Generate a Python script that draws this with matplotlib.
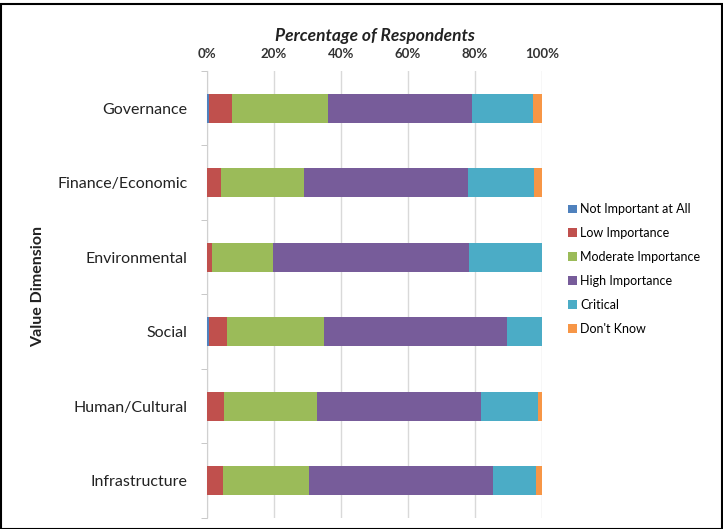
import numpy as np
import matplotlib
matplotlib.use("Agg")
import matplotlib.pyplot as plt
from matplotlib.patches import Rectangle

plt.rcParams["font.family"] = ["Lato", "DejaVu Sans"]

# Data (percent of respondents)
categories = ["Governance", "Finance/Economic", "Environmental",
              "Social", "Human/Cultural", "Infrastructure"]
series_names = ["Not Important at All", "Low Importance", "Moderate Importance",
                "High Importance", "Critical", "Don't Know"]
not_important = [0.7, 0.0, 0.0, 0.7, 0.0, 0.0]
low = [6.7, 4.1, 1.4, 5.2, 5.2, 4.9]
moderate = [28.8, 24.9, 18.4, 29.0, 27.7, 25.6]
high = [42.8, 49.0, 58.4, 54.6, 48.8, 55.0]
critical = [18.4, 19.6, 21.8, 10.5, 17.2, 12.7]
dont_know = [2.6, 2.4, 0.0, 0.0, 1.1, 1.8]

colors = ["#4F81BD", "#C0504D", "#9BBB59", "#775C9A", "#4BACC6", "#F79646"]
series = [not_important, low, moderate, high, critical, dont_know]

fig = plt.figure(figsize=(7.23, 5.29), dpi=100)
ax = fig.add_axes([0.2863, 0.021, 0.4634, 0.845])

y = np.arange(len(categories))
left = np.zeros(len(categories))
handles = []
for name, vals, col in zip(series_names, series, colors):
    vals = np.array(vals)
    h = ax.barh(y, vals, left=left, height=0.39, color=col, label=name, zorder=3)
    handles.append(h)
    left += vals

ax.set_xlim(0, 100)
ax.set_ylim(len(categories) - 0.5, -0.5)
ax.xaxis.tick_top()
ax.xaxis.set_label_position("top")
ax.set_xticks(np.arange(0, 101, 20))
ax.set_xticklabels([f"{v}%" for v in range(0, 101, 20)], fontsize=9.5,
                   fontweight="bold", color="#333333")
ax.tick_params(axis="x", length=0, pad=8)
ax.grid(axis="x", color="#d9d9d9", linewidth=1, zorder=0)

ax.set_yticks(y)
ax.set_yticklabels(categories, fontsize=11.5, color="#222222")
ax.set_yticks(np.arange(len(categories) + 1) - 0.5, minor=True)
ax.tick_params(axis="y", which="major", length=0, pad=14)
ax.tick_params(axis="y", which="minor", length=4, color="#bfbfbf", direction="out")

for s in ["top", "right", "bottom"]:
    ax.spines[s].set_visible(False)
ax.spines["left"].set_color("#d0d0d0")

ax.set_xlabel("Percentage of Respondents", fontsize=12.5, fontweight="bold",
              style="italic", labelpad=5, color="#222222")
fig.text(0.053, 0.4575, "Value Dimension", rotation=90, fontsize=11.5,
         fontweight="bold", ha="center", va="center", color="#222222")

fig.legend(handles=handles, labels=series_names, loc="upper left",
           bbox_to_anchor=(0.77, 0.637), frameon=False, fontsize=9,
           handlelength=0.7, handleheight=0.7, handletextpad=0.3,
           labelspacing=0.95)

fig.patches.append(Rectangle((0.002, 0.0), 0.996, 0.993, transform=fig.transFigure,
                             fill=False, edgecolor="black", linewidth=1.5))

fig.savefig("out.png", dpi=100)
